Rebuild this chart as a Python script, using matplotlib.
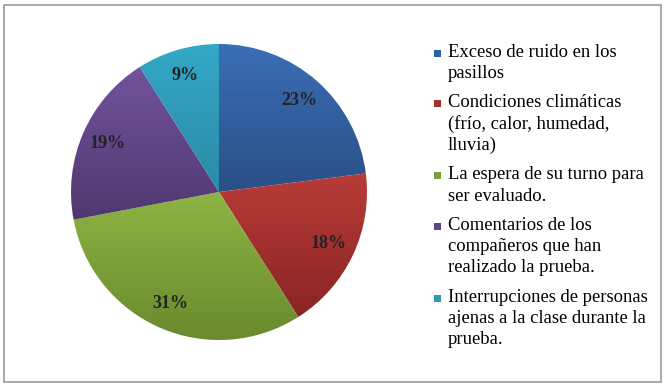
import numpy as np
import matplotlib
matplotlib.use("Agg")
import matplotlib.pyplot as plt
from matplotlib.colors import LinearSegmentedColormap
from matplotlib.patches import Rectangle

# data
labels = [
    "Exceso de ruido en los\npasillos",
    "Condiciones climáticas\n(frío, calor, humedad,\nlluvia)",
    "La espera de su turno para\nser evaluado.",
    "Comentarios de los\ncompañeros que han\nrealizado la prueba.",
    "Interrupciones de personas\najenas a la clase durante la\nprueba.",
]
values = [23, 18, 31, 19, 9]
top_colors = ["#3a6eb6", "#b83c38", "#8db443", "#72539c", "#33a8c7"]
bottom_colors = ["#2a4f86", "#8a2424", "#6a8a2e", "#4f3870", "#2a8aa6"]

W, H = 665, 385
fig = plt.figure(figsize=(W / 100, H / 100), dpi=100)
plt.rcParams["font.family"] = ["Liberation Serif", "DejaVu Serif"]

# pie axes, placed in pixels
cx, cy, r = 219, 192, 148
ax = fig.add_axes([(cx - r) / W, 1 - (cy + r) / H, 2 * r / W, 2 * r / H])
wedges, texts, autotexts = ax.pie(
    values, startangle=90, counterclock=False, autopct="%d%%",
    pctdistance=0.82, colors=top_colors,
    wedgeprops=dict(linewidth=0),
    textprops=dict(fontsize=13, fontweight="bold", color="#222222"))
ax.set_aspect("equal")

# vertical gradient per slice, clipped to the wedge
grad = np.linspace(1, 0, 256).reshape(-1, 1)
for w, c_top, c_bot in zip(wedges, top_colors, bottom_colors):
    ext = w.get_path().get_extents()
    cmap = LinearSegmentedColormap.from_list("g", [c_bot, c_top])
    im = ax.imshow(grad, cmap=cmap, aspect="auto", vmin=0, vmax=1,
                   extent=[ext.x0, ext.x1, ext.y0, ext.y1], zorder=1.5,
                   interpolation="bilinear")
    im.set_clip_path(w)
    w.set_facecolor("none")
for t in autotexts:
    t.set_zorder(3)
ax.set_xlim(-1, 1)
ax.set_ylim(-1, 1)

# legend drawn by hand to match spacing
line_h = 21.3
gap = 8.0
y = 56.7
for lab, c_top, c_bot in zip(labels, top_colors, bottom_colors):
    mix = [(int(c_top[i:i + 2], 16) + int(c_bot[i:i + 2], 16)) / 510 for i in (1, 3, 5)]
    fig.patches.append(Rectangle((434 / W, 1 - y / H), 7 / W, 7 / H,
                                 transform=fig.transFigure, facecolor=mix,
                                 edgecolor="none"))
    lines = lab.split("\n")
    for k, ln in enumerate(lines):
        fig.text(448 / W, 1 - (y + k * line_h) / H, ln, fontsize=13.4,
                 va="baseline", ha="left", color="black")
    y += len(lines) * line_h + gap

# chart frame
fig.patches.append(Rectangle((3.5 / W, 1 - 381.5 / H), 657 / W, 377 / H,
                             transform=fig.transFigure, facecolor="none",
                             edgecolor="#9a9a9a", linewidth=1.2))

fig.savefig("out.png", dpi=100)
